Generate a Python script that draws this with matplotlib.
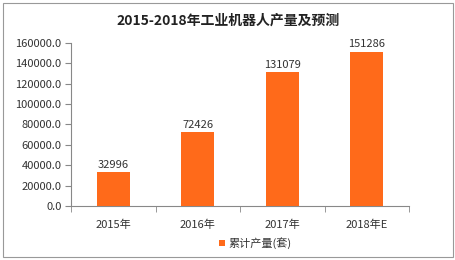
import matplotlib.pyplot as plt
from matplotlib.patches import Rectangle

plt.rcParams['font.family'] = ['Noto Sans CJK SC', 'DejaVu Sans']

# data
years = ['2015年', '2016年', '2017年', '2018年E']
output = [32996, 72426, 131079, 151286]
yticks = [0, 20000, 40000, 60000, 80000, 100000, 120000, 140000, 160000]

bar_color = '#FF6A1A'
axis_color = '#888888'
text_color = '#333333'

fig = plt.figure(figsize=(4.56, 2.6), dpi=100)
ax = fig.add_axes([0.156, 0.208, 0.741, 0.627])

x = range(len(years))
bars = ax.bar(x, output, width=0.39, color=bar_color, label='累计产量(套)', zorder=3)

for xi, v in zip(x, output):
    ax.text(xi, v + 2500, str(v), ha='center', va='bottom', fontsize=8, color=text_color)

ax.set_xlim(-0.5, len(years) - 0.5)
ax.set_ylim(0, 160000)
ax.set_yticks(yticks)
ax.set_yticklabels(['%.1f' % t for t in yticks], fontsize=8, color=text_color)
ax.set_xticks(list(x))
ax.set_xticklabels(years, fontsize=8, color=text_color)
ax.set_xticks([i - 0.5 for i in range(len(years) + 1)], minor=True)
ax.tick_params(axis='x', which='major', length=0, pad=10)
ax.tick_params(axis='x', which='minor', length=4, color=axis_color, direction='out')
ax.tick_params(axis='y', length=4, color=axis_color, direction='out', pad=3)

for side in ['top', 'right']:
    ax.spines[side].set_visible(False)
for side in ['left', 'bottom']:
    ax.spines[side].set_color(axis_color)
    ax.spines[side].set_linewidth(0.8)

fig.text(0.5, 0.92, '2015-2018年工业机器人产量及预测', ha='center', va='center',
         fontsize=10, fontweight='bold', color='#222222')

leg = fig.legend(loc='center', bbox_to_anchor=(0.56, 0.065), frameon=False, fontsize=8,
                 handlelength=0.5, handleheight=0.5, handletextpad=0.3)
for t in leg.get_texts():
    t.set_color(text_color)

fig.patches.append(Rectangle((0.006, 0.012), 0.988, 0.976, transform=fig.transFigure,
                             fill=False, edgecolor='#999999', linewidth=0.8))

fig.savefig('out.png', dpi=100)
